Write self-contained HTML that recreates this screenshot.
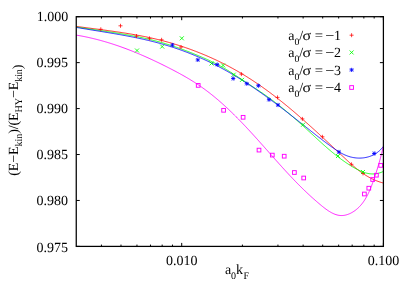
<!DOCTYPE html><html><head><meta charset="utf-8"><title>plot</title><style>html,body{margin:0;padding:0;background:#fff}svg{display:block}svg{will-change:transform}text{text-rendering:geometricPrecision;font-family:"Liberation Serif",serif;fill:#000}</style></head><body>
<svg width="415" height="291" viewBox="0 0 415 291">
<rect width="415" height="291" fill="#fff"/>
<defs><clipPath id="c"><rect x="76.25" y="16.70" width="307.15" height="229.70"/></clipPath></defs>
<g clip-path="url(#c)" fill="none" stroke-width="0.85" stroke-linejoin="round">
<path d="M76.10 26.37 L76.98 26.48 L77.86 26.60 L78.74 26.72 L79.61 26.83 L80.49 26.95 L81.37 27.07 L82.25 27.18 L83.13 27.30 L84.01 27.41 L84.89 27.53 L85.77 27.64 L86.65 27.76 L87.53 27.87 L88.40 27.99 L89.28 28.10 L90.16 28.21 L91.04 28.33 L91.92 28.44 L92.80 28.56 L93.68 28.67 L94.56 28.79 L95.44 28.90 L96.32 29.02 L97.20 29.13 L98.08 29.25 L98.96 29.36 L99.83 29.48 L100.71 29.60 L101.59 29.71 L102.47 29.83 L103.35 29.95 L104.23 30.07 L105.11 30.18 L105.99 30.30 L106.86 30.42 L107.74 30.54 L108.62 30.67 L109.50 30.79 L110.38 30.91 L111.25 31.03 L112.13 31.16 L113.01 31.28 L113.89 31.41 L114.76 31.53 L115.64 31.66 L116.52 31.79 L117.39 31.92 L118.27 32.05 L119.15 32.18 L120.02 32.31 L120.90 32.45 L121.77 32.58 L122.65 32.72 L123.52 32.85 L124.40 32.99 L125.27 33.13 L126.15 33.27 L127.02 33.41 L127.90 33.55 L128.77 33.70 L129.64 33.84 L130.52 33.99 L131.39 34.14 L132.26 34.29 L133.13 34.44 L134.00 34.59 L134.88 34.75 L135.75 34.91 L136.62 35.06 L137.49 35.22 L138.36 35.38 L139.23 35.55 L140.10 35.71 L140.97 35.88 L141.84 36.05 L142.70 36.22 L143.57 36.39 L144.44 36.56 L145.31 36.74 L146.17 36.92 L147.04 37.10 L147.91 37.28 L148.77 37.46 L149.64 37.65 L150.50 37.84 L151.36 38.03 L152.23 38.22 L153.09 38.41 L153.95 38.61 L154.82 38.81 L155.68 39.01 L156.54 39.22 L157.40 39.42 L158.26 39.63 L159.12 39.84 L159.98 40.06 L160.84 40.27 L161.70 40.49 L162.56 40.71 L163.41 40.94 L164.27 41.16 L165.13 41.39 L165.98 41.62 L166.84 41.85 L167.69 42.09 L168.55 42.33 L169.40 42.57 L170.25 42.81 L171.10 43.06 L171.96 43.31 L172.81 43.56 L173.66 43.81 L174.51 44.07 L175.35 44.33 L176.20 44.59 L177.05 44.85 L177.90 45.12 L178.74 45.38 L179.59 45.65 L180.43 45.93 L181.28 46.20 L182.12 46.48 L182.96 46.76 L183.80 47.04 L184.64 47.33 L185.48 47.62 L186.32 47.91 L187.16 48.20 L188.00 48.49 L188.83 48.79 L189.67 49.09 L190.50 49.39 L191.34 49.70 L192.17 50.00 L193.00 50.31 L193.84 50.63 L194.67 50.94 L195.50 51.26 L196.32 51.58 L197.15 51.90 L197.98 52.22 L198.81 52.55 L199.63 52.88 L200.45 53.21 L201.28 53.54 L202.10 53.88 L202.92 54.21 L203.74 54.55 L204.56 54.90 L205.38 55.24 L206.19 55.59 L207.01 55.94 L207.82 56.29 L208.64 56.65 L209.45 57.00 L210.26 57.36 L211.07 57.73 L211.88 58.09 L212.69 58.46 L213.50 58.83 L214.30 59.20 L215.11 59.57 L215.91 59.95 L216.72 60.33 L217.52 60.71 L218.32 61.09 L219.12 61.47 L219.91 61.86 L220.71 62.25 L221.51 62.64 L222.30 63.04 L223.09 63.44 L223.89 63.84 L224.68 64.24 L225.47 64.64 L226.25 65.05 L227.04 65.46 L227.83 65.87 L228.61 66.28 L229.39 66.70 L230.17 67.11 L230.95 67.53 L231.73 67.96 L232.51 68.38 L233.29 68.81 L234.06 69.24 L234.83 69.67 L235.61 70.10 L236.38 70.54 L237.15 70.98 L237.91 71.42 L238.68 71.86 L239.44 72.31 L240.21 72.75 L240.97 73.20 L241.73 73.66 L242.49 74.11 L243.25 74.57 L244.00 75.03 L244.76 75.49 L245.51 75.95 L246.26 76.42 L247.01 76.88 L247.76 77.35 L248.51 77.83 L249.26 78.30 L250.00 78.78 L250.74 79.25 L251.49 79.73 L252.23 80.22 L252.96 80.70 L253.70 81.19 L254.44 81.68 L255.17 82.17 L255.91 82.66 L256.64 83.15 L257.37 83.65 L258.10 84.15 L258.83 84.65 L259.56 85.15 L260.29 85.65 L261.01 86.16 L261.73 86.67 L262.46 87.18 L263.18 87.69 L263.90 88.20 L264.62 88.72 L265.34 89.23 L266.05 89.75 L266.77 90.27 L267.48 90.79 L268.19 91.32 L268.91 91.84 L269.62 92.37 L270.33 92.90 L271.04 93.43 L271.74 93.96 L272.45 94.49 L273.15 95.03 L273.86 95.56 L274.56 96.10 L275.26 96.64 L275.97 97.18 L276.67 97.72 L277.36 98.27 L278.06 98.81 L278.76 99.36 L279.46 99.91 L280.15 100.45 L280.84 101.01 L281.54 101.56 L282.23 102.11 L282.92 102.67 L283.61 103.22 L284.30 103.78 L284.99 104.34 L285.68 104.90 L286.36 105.46 L287.05 106.02 L287.73 106.59 L288.42 107.15 L289.10 107.72 L289.78 108.28 L290.46 108.85 L291.14 109.42 L291.82 109.99 L292.50 110.57 L293.18 111.14 L293.86 111.71 L294.53 112.29 L295.21 112.86 L295.88 113.44 L296.56 114.02 L297.23 114.60 L297.90 115.18 L298.58 115.76 L299.25 116.34 L299.92 116.92 L300.59 117.51 L301.26 118.09 L301.92 118.68 L302.59 119.26 L303.26 119.85 L303.93 120.44 L304.59 121.03 L305.26 121.62 L305.92 122.21 L306.58 122.80 L307.25 123.39 L307.91 123.98 L308.57 124.58 L309.23 125.17 L309.89 125.76 L310.55 126.36 L311.21 126.95 L311.87 127.55 L312.53 128.15 L313.19 128.75 L313.85 129.34 L314.50 129.94 L315.16 130.54 L315.82 131.14 L316.47 131.74 L317.13 132.34 L317.78 132.94 L318.44 133.54 L319.09 134.15 L319.74 134.75 L320.40 135.35 L321.05 135.96 L321.70 136.56 L322.35 137.16 L323.00 137.77 L323.65 138.37 L324.31 138.98 L324.96 139.58 L325.61 140.19 L326.25 140.79 L326.90 141.40 L327.55 142.01 L328.20 142.61 L328.85 143.22 L329.50 143.82 L330.14 144.43 L330.79 145.04 L331.44 145.65 L332.09 146.25 L332.73 146.86 L333.38 147.47 L334.03 148.07 L334.67 148.68 L335.32 149.29 L335.96 149.90 L336.61 150.50 L337.25 151.11 L337.90 151.72 L338.54 152.33 L339.19 152.93 L339.83 153.54 L340.48 154.15 L341.12 154.75 L341.76 155.36 L342.41 155.97 L343.05 156.57 L343.70 157.18 L344.34 157.78 L344.98 158.39 L345.63 158.99 L346.27 159.60 L346.92 160.20 L347.57 160.80 L348.22 161.39 L348.87 161.99 L349.52 162.58 L350.17 163.18 L350.82 163.76 L351.48 164.35 L352.14 164.93 L352.80 165.51 L353.47 166.08 L354.13 166.65 L354.80 167.22 L355.48 167.78 L356.15 168.34 L356.83 168.89 L357.52 169.44 L358.21 169.98 L358.90 170.52 L359.59 171.05 L360.30 171.57 L361.00 172.09 L361.71 172.60 L362.43 173.11 L363.15 173.60 L363.87 174.09 L364.60 174.58 L365.34 175.05 L366.09 175.52 L366.83 175.97 L367.59 176.42 L368.35 176.87 L369.12 177.30 L369.90 177.72 L370.68 178.13 L371.47 178.54 L372.27 178.93 L373.07 179.31 L373.89 179.69 L374.71 180.05 L375.54 180.40 L376.37 180.74 L377.22 181.07 L378.07 181.39 L378.94 181.69 L379.81 181.99 L380.69 182.27 L381.58 182.54 L382.48 182.79 L383.40 183.04" stroke="#ff0000"/>
<path d="M76.11 26.96 L76.97 27.09 L77.84 27.23 L78.70 27.36 L79.56 27.50 L80.43 27.63 L81.29 27.76 L82.16 27.89 L83.02 28.02 L83.89 28.15 L84.75 28.28 L85.62 28.41 L86.49 28.54 L87.35 28.67 L88.22 28.80 L89.09 28.93 L89.95 29.05 L90.82 29.18 L91.69 29.31 L92.55 29.44 L93.42 29.56 L94.29 29.69 L95.16 29.82 L96.03 29.94 L96.89 30.07 L97.76 30.20 L98.63 30.33 L99.50 30.45 L100.37 30.58 L101.23 30.71 L102.10 30.84 L102.97 30.96 L103.84 31.09 L104.71 31.22 L105.57 31.35 L106.44 31.48 L107.31 31.61 L108.18 31.74 L109.05 31.88 L109.91 32.01 L110.78 32.14 L111.65 32.27 L112.52 32.41 L113.38 32.54 L114.25 32.68 L115.12 32.82 L115.99 32.95 L116.85 33.09 L117.72 33.23 L118.59 33.37 L119.45 33.51 L120.32 33.66 L121.18 33.80 L122.05 33.95 L122.91 34.09 L123.78 34.24 L124.64 34.39 L125.51 34.54 L126.37 34.69 L127.24 34.84 L128.10 35.00 L128.96 35.15 L129.83 35.31 L130.69 35.47 L131.55 35.63 L132.41 35.79 L133.27 35.95 L134.13 36.12 L135.00 36.28 L135.86 36.45 L136.71 36.62 L137.57 36.79 L138.43 36.97 L139.29 37.14 L140.15 37.32 L141.01 37.50 L141.86 37.68 L142.72 37.87 L143.58 38.05 L144.43 38.24 L145.29 38.43 L146.14 38.62 L146.99 38.82 L147.85 39.01 L148.70 39.21 L149.55 39.42 L150.40 39.62 L151.25 39.83 L152.10 40.04 L152.95 40.25 L153.80 40.46 L154.65 40.68 L155.49 40.90 L156.34 41.12 L157.19 41.34 L158.03 41.57 L158.88 41.80 L159.72 42.03 L160.56 42.27 L161.40 42.51 L162.25 42.75 L163.09 42.99 L163.93 43.24 L164.77 43.49 L165.60 43.74 L166.44 44.00 L167.28 44.26 L168.11 44.52 L168.95 44.78 L169.78 45.05 L170.62 45.31 L171.45 45.58 L172.28 45.86 L173.12 46.13 L173.95 46.41 L174.78 46.69 L175.61 46.98 L176.44 47.26 L177.26 47.55 L178.09 47.84 L178.92 48.13 L179.74 48.43 L180.57 48.72 L181.39 49.02 L182.22 49.32 L183.04 49.63 L183.86 49.93 L184.68 50.24 L185.51 50.55 L186.33 50.86 L187.15 51.17 L187.96 51.49 L188.78 51.81 L189.60 52.13 L190.42 52.45 L191.23 52.77 L192.05 53.10 L192.86 53.42 L193.68 53.75 L194.49 54.08 L195.30 54.41 L196.12 54.75 L196.93 55.08 L197.74 55.42 L198.55 55.76 L199.36 56.10 L200.17 56.44 L200.97 56.79 L201.78 57.13 L202.59 57.48 L203.39 57.83 L204.20 58.18 L205.00 58.53 L205.80 58.89 L206.60 59.25 L207.40 59.61 L208.20 59.97 L209.00 60.34 L209.79 60.71 L210.59 61.08 L211.38 61.46 L212.17 61.83 L212.96 62.22 L213.75 62.60 L214.53 62.99 L215.31 63.39 L216.09 63.78 L216.87 64.18 L217.64 64.59 L218.42 65.00 L219.19 65.41 L219.96 65.83 L220.72 66.26 L221.48 66.68 L222.24 67.12 L223.00 67.55 L223.76 67.99 L224.51 68.44 L225.26 68.89 L226.01 69.34 L226.76 69.79 L227.50 70.25 L228.25 70.71 L228.99 71.17 L229.73 71.64 L230.47 72.11 L231.21 72.58 L231.95 73.05 L232.68 73.52 L233.42 74.00 L234.15 74.48 L234.89 74.95 L235.62 75.43 L236.36 75.91 L237.09 76.40 L237.82 76.88 L238.55 77.36 L239.29 77.84 L240.02 78.33 L240.75 78.81 L241.48 79.29 L242.22 79.77 L242.95 80.26 L243.68 80.74 L244.42 81.22 L245.15 81.70 L245.89 82.18 L246.62 82.66 L247.36 83.14 L248.09 83.62 L248.83 84.10 L249.56 84.58 L250.29 85.06 L251.03 85.54 L251.76 86.02 L252.50 86.50 L253.23 86.99 L253.96 87.47 L254.69 87.95 L255.43 88.44 L256.16 88.92 L256.89 89.41 L257.62 89.90 L258.35 90.38 L259.07 90.87 L259.80 91.37 L260.53 91.86 L261.25 92.35 L261.97 92.85 L262.70 93.34 L263.42 93.84 L264.14 94.34 L264.86 94.84 L265.57 95.35 L266.29 95.85 L267.00 96.36 L267.72 96.87 L268.43 97.38 L269.14 97.89 L269.84 98.41 L270.55 98.93 L271.26 99.45 L271.96 99.97 L272.66 100.49 L273.36 101.02 L274.06 101.55 L274.76 102.08 L275.45 102.61 L276.15 103.14 L276.84 103.68 L277.53 104.21 L278.22 104.75 L278.91 105.29 L279.60 105.83 L280.28 106.38 L280.97 106.92 L281.65 107.47 L282.33 108.02 L283.01 108.57 L283.69 109.12 L284.37 109.68 L285.05 110.23 L285.72 110.79 L286.40 111.35 L287.07 111.91 L287.74 112.47 L288.42 113.03 L289.09 113.60 L289.75 114.16 L290.42 114.73 L291.09 115.30 L291.75 115.87 L292.42 116.44 L293.08 117.01 L293.74 117.59 L294.40 118.16 L295.06 118.74 L295.72 119.32 L296.38 119.90 L297.03 120.48 L297.69 121.06 L298.34 121.64 L299.00 122.22 L299.65 122.81 L300.30 123.40 L300.95 123.98 L301.60 124.57 L302.25 125.16 L302.90 125.75 L303.55 126.34 L304.19 126.93 L304.84 127.53 L305.49 128.12 L306.13 128.71 L306.77 129.31 L307.42 129.90 L308.06 130.50 L308.70 131.10 L309.34 131.69 L309.99 132.29 L310.63 132.88 L311.27 133.48 L311.91 134.08 L312.55 134.68 L313.20 135.27 L313.84 135.87 L314.48 136.46 L315.12 137.06 L315.77 137.66 L316.41 138.25 L317.05 138.84 L317.70 139.44 L318.35 140.03 L318.99 140.62 L319.64 141.21 L320.29 141.80 L320.93 142.39 L321.58 142.98 L322.23 143.57 L322.89 144.15 L323.54 144.74 L324.19 145.32 L324.85 145.90 L325.51 146.48 L326.16 147.06 L326.82 147.63 L327.49 148.21 L328.15 148.78 L328.81 149.35 L329.48 149.92 L330.15 150.48 L330.82 151.05 L331.49 151.61 L332.17 152.17 L332.84 152.72 L333.52 153.28 L334.20 153.83 L334.88 154.38 L335.57 154.93 L336.26 155.47 L336.95 156.01 L337.64 156.55 L338.34 157.08 L339.04 157.61 L339.74 158.14 L340.44 158.67 L341.15 159.19 L341.86 159.71 L342.57 160.22 L343.29 160.73 L344.00 161.24 L344.73 161.75 L345.45 162.25 L346.18 162.74 L346.91 163.24 L347.65 163.72 L348.39 164.21 L349.13 164.69 L349.88 165.16 L350.63 165.64 L351.38 166.10 L352.14 166.57 L352.91 167.02 L353.67 167.48 L354.44 167.92 L355.22 168.36 L355.99 168.79 L356.77 169.21 L357.56 169.62 L358.35 170.01 L359.14 170.40 L359.94 170.77 L360.74 171.12 L361.54 171.46 L362.35 171.78 L363.16 172.09 L363.97 172.37 L364.79 172.64 L365.61 172.88 L366.43 173.10 L367.26 173.30 L368.09 173.48 L368.92 173.63 L369.76 173.75 L370.60 173.84 L371.44 173.91 L372.29 173.95 L373.13 173.96 L373.99 173.93 L374.84 173.88 L375.70 173.79 L376.56 173.66 L377.42 173.50 L378.29 173.31 L379.15 173.07 L380.03 172.80 L380.90 172.49 L381.78 172.14 L382.65 171.74 L383.54 171.31" stroke="#00ff00"/>
<path d="M76.11 27.36 L76.96 27.51 L77.81 27.66 L78.66 27.80 L79.52 27.95 L80.37 28.09 L81.22 28.24 L82.07 28.38 L82.92 28.52 L83.78 28.67 L84.63 28.81 L85.48 28.95 L86.34 29.09 L87.19 29.23 L88.05 29.37 L88.90 29.51 L89.75 29.65 L90.61 29.79 L91.46 29.93 L92.32 30.07 L93.17 30.21 L94.03 30.34 L94.88 30.48 L95.74 30.62 L96.59 30.76 L97.45 30.90 L98.30 31.04 L99.16 31.17 L100.01 31.31 L100.87 31.45 L101.72 31.59 L102.58 31.73 L103.43 31.87 L104.29 32.01 L105.14 32.15 L106.00 32.29 L106.85 32.43 L107.71 32.57 L108.56 32.71 L109.42 32.86 L110.27 33.00 L111.13 33.14 L111.98 33.29 L112.84 33.43 L113.69 33.58 L114.55 33.72 L115.40 33.87 L116.26 34.01 L117.11 34.16 L117.97 34.31 L118.82 34.46 L119.67 34.61 L120.53 34.76 L121.38 34.91 L122.23 35.07 L123.08 35.22 L123.94 35.38 L124.79 35.53 L125.64 35.69 L126.49 35.85 L127.35 36.01 L128.20 36.17 L129.05 36.33 L129.90 36.49 L130.75 36.66 L131.60 36.83 L132.45 36.99 L133.30 37.16 L134.15 37.33 L135.00 37.50 L135.84 37.68 L136.69 37.85 L137.54 38.03 L138.39 38.21 L139.23 38.38 L140.08 38.57 L140.93 38.75 L141.77 38.93 L142.62 39.12 L143.46 39.31 L144.31 39.50 L145.15 39.69 L146.00 39.88 L146.84 40.08 L147.68 40.28 L148.52 40.48 L149.36 40.68 L150.21 40.88 L151.05 41.09 L151.89 41.29 L152.72 41.50 L153.56 41.72 L154.40 41.93 L155.24 42.15 L156.08 42.37 L156.91 42.59 L157.75 42.81 L158.58 43.04 L159.42 43.26 L160.25 43.50 L161.09 43.73 L161.92 43.96 L162.75 44.20 L163.58 44.44 L164.41 44.69 L165.24 44.93 L166.07 45.18 L166.90 45.43 L167.73 45.68 L168.56 45.94 L169.38 46.20 L170.21 46.46 L171.04 46.72 L171.86 46.98 L172.68 47.25 L173.51 47.52 L174.33 47.79 L175.15 48.07 L175.97 48.34 L176.79 48.62 L177.61 48.91 L178.43 49.19 L179.25 49.48 L180.06 49.76 L180.88 50.06 L181.69 50.35 L182.51 50.65 L183.32 50.94 L184.13 51.25 L184.95 51.55 L185.76 51.85 L186.57 52.16 L187.37 52.47 L188.18 52.78 L188.99 53.10 L189.80 53.42 L190.60 53.74 L191.41 54.06 L192.21 54.38 L193.01 54.71 L193.81 55.04 L194.61 55.37 L195.41 55.70 L196.21 56.04 L197.01 56.38 L197.81 56.72 L198.60 57.06 L199.40 57.40 L200.19 57.75 L200.98 58.10 L201.78 58.45 L202.57 58.81 L203.36 59.16 L204.14 59.52 L204.93 59.88 L205.72 60.25 L206.50 60.61 L207.29 60.98 L208.07 61.35 L208.85 61.72 L209.63 62.10 L210.41 62.47 L211.19 62.85 L211.97 63.23 L212.75 63.62 L213.52 64.00 L214.30 64.39 L215.07 64.78 L215.84 65.17 L216.61 65.57 L217.38 65.96 L218.15 66.36 L218.92 66.76 L219.68 67.17 L220.45 67.57 L221.21 67.98 L221.97 68.39 L222.73 68.80 L223.49 69.22 L224.25 69.63 L225.01 70.05 L225.76 70.47 L226.52 70.89 L227.27 71.32 L228.03 71.74 L228.78 72.17 L229.53 72.60 L230.28 73.04 L231.03 73.47 L231.77 73.91 L232.52 74.35 L233.27 74.79 L234.01 75.23 L234.75 75.67 L235.49 76.12 L236.23 76.56 L236.97 77.01 L237.71 77.46 L238.45 77.92 L239.19 78.37 L239.92 78.83 L240.66 79.29 L241.39 79.75 L242.12 80.21 L242.86 80.67 L243.59 81.13 L244.32 81.60 L245.04 82.07 L245.77 82.54 L246.50 83.01 L247.22 83.48 L247.95 83.96 L248.67 84.43 L249.40 84.91 L250.12 85.39 L250.84 85.87 L251.56 86.35 L252.28 86.83 L253.00 87.31 L253.72 87.80 L254.43 88.29 L255.15 88.78 L255.86 89.26 L256.58 89.76 L257.29 90.25 L258.00 90.74 L258.72 91.24 L259.43 91.73 L260.14 92.23 L260.85 92.73 L261.56 93.23 L262.26 93.73 L262.97 94.23 L263.68 94.73 L264.38 95.24 L265.09 95.74 L265.79 96.25 L266.49 96.75 L267.20 97.26 L267.90 97.77 L268.60 98.28 L269.30 98.79 L270.00 99.31 L270.70 99.82 L271.40 100.33 L272.09 100.85 L272.79 101.36 L273.49 101.88 L274.18 102.40 L274.88 102.92 L275.57 103.43 L276.27 103.95 L276.96 104.48 L277.65 105.00 L278.35 105.52 L279.04 106.04 L279.73 106.57 L280.42 107.09 L281.11 107.61 L281.80 108.14 L282.49 108.67 L283.17 109.19 L283.86 109.72 L284.55 110.25 L285.23 110.78 L285.92 111.31 L286.61 111.84 L287.29 112.37 L287.97 112.90 L288.66 113.43 L289.34 113.96 L290.02 114.49 L290.71 115.02 L291.39 115.56 L292.07 116.09 L292.75 116.62 L293.43 117.16 L294.11 117.69 L294.79 118.22 L295.47 118.76 L296.15 119.29 L296.83 119.83 L297.51 120.36 L298.19 120.90 L298.86 121.44 L299.54 121.97 L300.22 122.51 L300.89 123.04 L301.57 123.58 L302.25 124.12 L302.92 124.65 L303.60 125.19 L304.27 125.73 L304.95 126.26 L305.62 126.80 L306.29 127.34 L306.97 127.87 L307.64 128.41 L308.32 128.95 L308.99 129.48 L309.66 130.02 L310.34 130.56 L311.01 131.09 L311.69 131.63 L312.36 132.16 L313.04 132.70 L313.71 133.23 L314.39 133.76 L315.07 134.30 L315.74 134.83 L316.42 135.36 L317.10 135.90 L317.78 136.43 L318.46 136.96 L319.14 137.49 L319.83 138.02 L320.51 138.55 L321.20 139.08 L321.88 139.61 L322.57 140.13 L323.26 140.66 L323.95 141.18 L324.64 141.71 L325.34 142.23 L326.03 142.76 L326.73 143.28 L327.43 143.80 L328.13 144.32 L328.83 144.84 L329.54 145.36 L330.24 145.87 L330.95 146.39 L331.66 146.90 L332.38 147.41 L333.09 147.92 L333.81 148.43 L334.53 148.93 L335.26 149.42 L335.99 149.91 L336.72 150.40 L337.46 150.87 L338.20 151.34 L338.94 151.79 L339.69 152.24 L340.44 152.67 L341.20 153.10 L341.96 153.51 L342.73 153.91 L343.50 154.29 L344.28 154.66 L345.07 155.02 L345.86 155.35 L346.66 155.67 L347.46 155.98 L348.27 156.26 L349.08 156.53 L349.91 156.77 L350.74 157.00 L351.57 157.20 L352.41 157.39 L353.26 157.55 L354.10 157.69 L354.96 157.81 L355.81 157.91 L356.67 157.99 L357.52 158.05 L358.38 158.09 L359.24 158.10 L360.10 158.09 L360.96 158.07 L361.82 158.01 L362.67 157.94 L363.52 157.85 L364.37 157.73 L365.22 157.59 L366.06 157.42 L366.90 157.24 L367.73 157.03 L368.55 156.79 L369.37 156.54 L370.18 156.26 L370.98 155.96 L371.78 155.63 L372.56 155.28 L373.34 154.90 L374.10 154.50 L374.86 154.08 L375.60 153.63 L376.33 153.16 L377.05 152.66 L377.76 152.14 L378.45 151.59 L379.13 151.02 L379.79 150.43 L380.44 149.80 L381.07 149.15 L381.68 148.48 L382.28 147.78 L382.86 147.05 L383.42 146.30" stroke="#0000ff"/>
<path d="M76.11 35.09 L77.13 35.26 L78.15 35.43 L79.18 35.61 L80.20 35.79 L81.22 35.98 L82.23 36.17 L83.25 36.37 L84.27 36.57 L85.28 36.78 L86.30 36.99 L87.31 37.20 L88.32 37.42 L89.33 37.65 L90.34 37.88 L91.35 38.11 L92.36 38.35 L93.37 38.59 L94.37 38.83 L95.38 39.08 L96.38 39.33 L97.38 39.59 L98.38 39.85 L99.38 40.12 L100.38 40.39 L101.38 40.66 L102.37 40.94 L103.37 41.22 L104.36 41.51 L105.36 41.80 L106.35 42.09 L107.34 42.39 L108.33 42.69 L109.32 42.99 L110.31 43.30 L111.29 43.61 L112.28 43.93 L113.27 44.25 L114.25 44.57 L115.23 44.90 L116.21 45.23 L117.19 45.56 L118.17 45.89 L119.15 46.23 L120.13 46.58 L121.10 46.92 L122.08 47.27 L123.05 47.63 L124.02 47.98 L125.00 48.34 L125.97 48.70 L126.94 49.07 L127.90 49.44 L128.87 49.81 L129.84 50.19 L130.80 50.56 L131.77 50.94 L132.73 51.33 L133.69 51.71 L134.65 52.10 L135.61 52.50 L136.57 52.89 L137.53 53.29 L138.49 53.69 L139.44 54.09 L140.40 54.50 L141.35 54.91 L142.30 55.32 L143.25 55.73 L144.20 56.15 L145.15 56.57 L146.10 56.99 L147.05 57.41 L147.99 57.84 L148.94 58.26 L149.88 58.69 L150.83 59.13 L151.77 59.56 L152.71 60.00 L153.65 60.44 L154.59 60.88 L155.52 61.32 L156.46 61.77 L157.40 62.22 L158.33 62.67 L159.26 63.12 L160.20 63.57 L161.13 64.03 L162.06 64.49 L162.99 64.95 L163.91 65.41 L164.84 65.87 L165.77 66.34 L166.69 66.80 L167.62 67.27 L168.54 67.74 L169.46 68.21 L170.38 68.68 L171.30 69.16 L172.22 69.64 L173.14 70.11 L174.05 70.59 L174.97 71.08 L175.88 71.56 L176.79 72.05 L177.70 72.54 L178.61 73.03 L179.52 73.52 L180.42 74.02 L181.33 74.52 L182.23 75.02 L183.13 75.52 L184.02 76.03 L184.92 76.54 L185.81 77.06 L186.70 77.57 L187.59 78.10 L188.48 78.62 L189.36 79.15 L190.24 79.68 L191.12 80.22 L192.00 80.76 L192.87 81.30 L193.74 81.85 L194.61 82.40 L195.48 82.96 L196.34 83.52 L197.20 84.09 L198.05 84.66 L198.91 85.23 L199.76 85.81 L200.60 86.40 L201.45 86.99 L202.29 87.58 L203.12 88.18 L203.96 88.78 L204.79 89.39 L205.62 90.00 L206.45 90.62 L207.27 91.24 L208.09 91.86 L208.91 92.49 L209.72 93.12 L210.53 93.76 L211.34 94.40 L212.15 95.04 L212.95 95.69 L213.75 96.34 L214.55 96.99 L215.35 97.65 L216.14 98.32 L216.93 98.98 L217.72 99.65 L218.51 100.32 L219.29 101.00 L220.07 101.68 L220.85 102.36 L221.63 103.05 L222.40 103.74 L223.17 104.43 L223.94 105.13 L224.71 105.83 L225.48 106.53 L226.24 107.23 L227.00 107.94 L227.76 108.65 L228.52 109.36 L229.27 110.08 L230.03 110.80 L230.78 111.52 L231.53 112.24 L232.27 112.96 L233.02 113.69 L233.76 114.42 L234.50 115.16 L235.24 115.89 L235.98 116.63 L236.72 117.37 L237.45 118.11 L238.19 118.85 L238.92 119.60 L239.65 120.34 L240.38 121.09 L241.10 121.84 L241.83 122.60 L242.55 123.35 L243.28 124.11 L244.00 124.86 L244.72 125.62 L245.44 126.38 L246.15 127.14 L246.87 127.91 L247.58 128.67 L248.30 129.44 L249.01 130.20 L249.72 130.97 L250.43 131.74 L251.14 132.51 L251.84 133.28 L252.55 134.06 L253.25 134.83 L253.96 135.60 L254.66 136.38 L255.36 137.15 L256.07 137.93 L256.77 138.71 L257.47 139.48 L258.17 140.26 L258.86 141.04 L259.56 141.82 L260.26 142.60 L260.95 143.38 L261.65 144.15 L262.34 144.93 L263.04 145.71 L263.73 146.49 L264.42 147.27 L265.11 148.05 L265.81 148.83 L266.50 149.61 L267.19 150.39 L267.88 151.17 L268.57 151.95 L269.26 152.73 L269.95 153.50 L270.64 154.28 L271.33 155.06 L272.01 155.83 L272.70 156.61 L273.39 157.38 L274.08 158.16 L274.77 158.93 L275.45 159.70 L276.14 160.47 L276.83 161.24 L277.52 162.01 L278.21 162.78 L278.89 163.55 L279.58 164.32 L280.27 165.08 L280.96 165.84 L281.65 166.61 L282.33 167.37 L283.02 168.12 L283.71 168.88 L284.40 169.64 L285.09 170.39 L285.78 171.15 L286.47 171.90 L287.16 172.65 L287.86 173.39 L288.55 174.14 L289.24 174.88 L289.93 175.62 L290.63 176.36 L291.32 177.10 L292.02 177.84 L292.72 178.57 L293.42 179.31 L294.12 180.04 L294.82 180.77 L295.52 181.50 L296.23 182.22 L296.94 182.95 L297.65 183.67 L298.36 184.40 L299.08 185.12 L299.80 185.84 L300.52 186.56 L301.25 187.28 L301.97 188.00 L302.70 188.71 L303.44 189.43 L304.18 190.14 L304.92 190.86 L305.66 191.57 L306.41 192.28 L307.17 192.99 L307.92 193.70 L308.69 194.41 L309.45 195.12 L310.22 195.83 L311.00 196.54 L311.78 197.25 L312.57 197.95 L313.36 198.66 L314.16 199.37 L314.96 200.07 L315.77 200.78 L316.58 201.48 L317.40 202.19 L318.22 202.89 L319.06 203.60 L319.89 204.30 L320.74 205.01 L321.59 205.71 L322.45 206.41 L323.31 207.10 L324.18 207.79 L325.06 208.46 L325.94 209.11 L326.83 209.75 L327.72 210.37 L328.62 210.97 L329.53 211.54 L330.44 212.09 L331.35 212.60 L332.28 213.08 L333.20 213.53 L334.14 213.94 L335.08 214.31 L336.02 214.64 L336.97 214.92 L337.92 215.15 L338.88 215.33 L339.84 215.46 L340.81 215.54 L341.78 215.55 L342.76 215.51 L343.74 215.41 L344.72 215.25 L345.69 215.04 L346.67 214.78 L347.64 214.47 L348.60 214.12 L349.55 213.73 L350.50 213.29 L351.43 212.81 L352.34 212.30 L353.24 211.76 L354.12 211.18 L354.98 210.58 L355.82 209.95 L356.63 209.29 L357.43 208.62 L358.19 207.92 L358.94 207.19 L359.67 206.45 L360.37 205.69 L361.05 204.91 L361.72 204.11 L362.36 203.29 L362.99 202.46 L363.59 201.61 L364.18 200.74 L364.75 199.87 L365.31 198.97 L365.85 198.07 L366.37 197.15 L366.88 196.23 L367.38 195.29 L367.86 194.34 L368.33 193.39 L368.78 192.43 L369.23 191.46 L369.66 190.48 L370.08 189.50 L370.49 188.52 L370.89 187.53 L371.29 186.54 L371.67 185.55 L372.04 184.55 L372.41 183.56 L372.77 182.57 L373.13 181.57 L373.47 180.59 L373.82 179.60 L374.15 178.62 L374.49 177.64 L374.82 176.66 L375.14 175.69 L375.46 174.72 L375.78 173.75 L376.09 172.79 L376.40 171.83 L376.70 170.86 L377.01 169.90 L377.30 168.94 L377.60 167.98 L377.89 167.01 L378.18 166.05 L378.46 165.09 L378.74 164.12 L379.02 163.15 L379.30 162.18 L379.57 161.20 L379.85 160.22 L380.12 159.24 L380.38 158.25 L380.65 157.26 L380.91 156.27 L381.17 155.26 L381.43 154.26 L381.69 153.24 L381.94 152.22 L382.20 151.19 L382.45 150.16 L382.70 149.11 L382.96 148.06 L383.21 147.00" stroke="#ff00ff"/>
</g>
<path d="M98.80 29.30H102.80M100.80 27.30V31.30" stroke="#ff0000" stroke-width="0.75" fill="none"/>
<path d="M118.50 25.80H122.50M120.50 23.80V27.80" stroke="#ff0000" stroke-width="0.75" fill="none"/>
<path d="M134.50 36.00H138.50M136.50 34.00V38.00" stroke="#ff0000" stroke-width="0.75" fill="none"/>
<path d="M147.50 38.40H151.50M149.50 36.40V40.40" stroke="#ff0000" stroke-width="0.75" fill="none"/>
<path d="M159.60 39.80H163.60M161.60 37.80V41.80" stroke="#ff0000" stroke-width="0.75" fill="none"/>
<path d="M179.00 47.00H183.00M181.00 45.00V49.00" stroke="#ff0000" stroke-width="0.75" fill="none"/>
<path d="M239.40 74.10H243.40M241.40 72.10V76.10" stroke="#ff0000" stroke-width="0.75" fill="none"/>
<path d="M275.50 97.40H279.50M277.50 95.40V99.40" stroke="#ff0000" stroke-width="0.75" fill="none"/>
<path d="M300.40 118.90H304.40M302.40 116.90V120.90" stroke="#ff0000" stroke-width="0.75" fill="none"/>
<path d="M320.40 136.80H324.40M322.40 134.80V138.80" stroke="#ff0000" stroke-width="0.75" fill="none"/>
<path d="M349.40 164.30H353.40M351.40 162.30V166.30" stroke="#ff0000" stroke-width="0.75" fill="none"/>
<path d="M361.00 173.40H365.00M363.00 171.40V175.40" stroke="#ff0000" stroke-width="0.75" fill="none"/>
<path d="M135.00 48.50L139.00 52.50M135.00 52.50L139.00 48.50" stroke="#00ff00" stroke-width="0.85" fill="none"/>
<path d="M160.20 44.60L164.20 48.60M160.20 48.60L164.20 44.60" stroke="#00ff00" stroke-width="0.85" fill="none"/>
<path d="M179.80 36.30L183.80 40.30M179.80 40.30L183.80 36.30" stroke="#00ff00" stroke-width="0.85" fill="none"/>
<path d="M209.50 61.50L213.50 65.50M209.50 65.50L213.50 61.50" stroke="#00ff00" stroke-width="0.85" fill="none"/>
<path d="M221.10 63.40L225.10 67.40M221.10 67.40L225.10 63.40" stroke="#00ff00" stroke-width="0.85" fill="none"/>
<path d="M231.70 72.70L235.70 76.70M231.70 76.70L235.70 72.70" stroke="#00ff00" stroke-width="0.85" fill="none"/>
<path d="M240.00 77.90L244.00 81.90M240.00 81.90L244.00 77.90" stroke="#00ff00" stroke-width="0.85" fill="none"/>
<path d="M301.10 122.70L305.10 126.70M301.10 126.70L305.10 122.70" stroke="#00ff00" stroke-width="0.85" fill="none"/>
<path d="M336.00 154.00L340.00 158.00M336.00 158.00L340.00 154.00" stroke="#00ff00" stroke-width="0.85" fill="none"/>
<path d="M361.00 170.00L365.00 174.00M361.00 174.00L365.00 170.00" stroke="#00ff00" stroke-width="0.85" fill="none"/>
<path d="M170.30 45.00H174.50M172.40 42.90V47.10M170.76 43.36L174.04 46.64M170.76 46.64L174.04 43.36" stroke="#0000ff" stroke-width="0.85" fill="none"/>
<path d="M195.70 59.90H199.90M197.80 57.80V62.00M196.16 58.26L199.44 61.54M196.16 61.54L199.44 58.26" stroke="#0000ff" stroke-width="0.85" fill="none"/>
<path d="M215.10 64.60H219.30M217.20 62.50V66.70M215.56 62.96L218.84 66.24M215.56 66.24L218.84 62.96" stroke="#0000ff" stroke-width="0.85" fill="none"/>
<path d="M231.10 78.50H235.30M233.20 76.40V80.60M231.56 76.86L234.84 80.14M231.56 80.14L234.84 76.86" stroke="#0000ff" stroke-width="0.85" fill="none"/>
<path d="M244.70 83.70H248.90M246.80 81.60V85.80M245.16 82.06L248.44 85.34M245.16 85.34L248.44 82.06" stroke="#0000ff" stroke-width="0.85" fill="none"/>
<path d="M256.30 85.70H260.50M258.40 83.60V87.80M256.76 84.06L260.04 87.34M256.76 87.34L260.04 84.06" stroke="#0000ff" stroke-width="0.85" fill="none"/>
<path d="M266.90 99.70H271.10M269.00 97.60V101.80M267.36 98.06L270.64 101.34M267.36 101.34L270.64 98.06" stroke="#0000ff" stroke-width="0.85" fill="none"/>
<path d="M275.90 105.00H280.10M278.00 102.90V107.10M276.36 103.36L279.64 106.64M276.36 106.64L279.64 103.36" stroke="#0000ff" stroke-width="0.85" fill="none"/>
<path d="M336.80 152.00H341.00M338.90 149.90V154.10M337.26 150.36L340.54 153.64M337.26 153.64L340.54 150.36" stroke="#0000ff" stroke-width="0.85" fill="none"/>
<path d="M372.10 153.50H376.30M374.20 151.40V155.60M372.56 151.86L375.84 155.14M372.56 155.14L375.84 151.86" stroke="#0000ff" stroke-width="0.85" fill="none"/>
<rect x="196.35" y="83.55" width="3.70" height="3.70" stroke="#ff00ff" stroke-width="0.95" fill="none"/>
<rect x="221.75" y="108.45" width="3.70" height="3.70" stroke="#ff00ff" stroke-width="0.95" fill="none"/>
<rect x="241.25" y="115.45" width="3.70" height="3.70" stroke="#ff00ff" stroke-width="0.95" fill="none"/>
<rect x="257.15" y="148.25" width="3.70" height="3.70" stroke="#ff00ff" stroke-width="0.95" fill="none"/>
<rect x="270.45" y="153.25" width="3.70" height="3.70" stroke="#ff00ff" stroke-width="0.95" fill="none"/>
<rect x="282.35" y="154.35" width="3.70" height="3.70" stroke="#ff00ff" stroke-width="0.95" fill="none"/>
<rect x="292.55" y="170.65" width="3.70" height="3.70" stroke="#ff00ff" stroke-width="0.95" fill="none"/>
<rect x="301.85" y="176.15" width="3.70" height="3.70" stroke="#ff00ff" stroke-width="0.95" fill="none"/>
<rect x="362.55" y="192.15" width="3.70" height="3.70" stroke="#ff00ff" stroke-width="0.95" fill="none"/>
<rect x="366.95" y="186.35" width="3.70" height="3.70" stroke="#ff00ff" stroke-width="0.95" fill="none"/>
<rect x="370.85" y="177.65" width="3.70" height="3.70" stroke="#ff00ff" stroke-width="0.95" fill="none"/>
<rect x="374.55" y="173.35" width="3.70" height="3.70" stroke="#ff00ff" stroke-width="0.95" fill="none"/>
<rect x="378.85" y="163.55" width="3.70" height="3.70" stroke="#ff00ff" stroke-width="0.95" fill="none"/>
<path d="M349.60 35.20H353.60M351.60 33.20V37.20" stroke="#ff0000" stroke-width="0.75" fill="none"/>
<text x="288.3" y="40.40" font-size="14.0">a<tspan font-size="9.8" dy="4.7">0</tspan><tspan dx="-0.3" dy="-4.7">/</tspan></text>
<text transform="translate(302.6,40.40) scale(1.14,1)" font-size="14.0">σ</text>
<text transform="translate(314.7,40.40) scale(1.05,1)" font-size="14.0">=</text>
<text transform="translate(325.3,40.40) scale(1.15,1)" font-size="14.0">−</text>
<text x="340.9" y="40.40" font-size="14.0" text-anchor="end">1</text>
<path d="M349.60 50.45L353.60 54.45M349.60 54.45L353.60 50.45" stroke="#00ff00" stroke-width="0.85" fill="none"/>
<text x="288.3" y="57.00" font-size="14.0">a<tspan font-size="9.8" dy="4.7">0</tspan><tspan dx="-0.3" dy="-4.7">/</tspan></text>
<text transform="translate(302.6,57.00) scale(1.14,1)" font-size="14.0">σ</text>
<text transform="translate(314.7,57.00) scale(1.05,1)" font-size="14.0">=</text>
<text transform="translate(325.3,57.00) scale(1.15,1)" font-size="14.0">−</text>
<text x="340.9" y="57.00" font-size="14.0" text-anchor="end">2</text>
<path d="M349.50 69.90H353.70M351.60 67.80V72.00M349.96 68.26L353.24 71.54M349.96 71.54L353.24 68.26" stroke="#0000ff" stroke-width="0.85" fill="none"/>
<text x="288.3" y="75.20" font-size="14.0">a<tspan font-size="9.8" dy="4.7">0</tspan><tspan dx="-0.3" dy="-4.7">/</tspan></text>
<text transform="translate(302.6,75.20) scale(1.14,1)" font-size="14.0">σ</text>
<text transform="translate(314.7,75.20) scale(1.05,1)" font-size="14.0">=</text>
<text transform="translate(325.3,75.20) scale(1.15,1)" font-size="14.0">−</text>
<text x="340.9" y="75.20" font-size="14.0" text-anchor="end">3</text>
<rect x="349.75" y="85.65" width="3.70" height="3.70" stroke="#ff00ff" stroke-width="0.95" fill="none"/>
<text x="288.3" y="92.00" font-size="14.0">a<tspan font-size="9.8" dy="4.7">0</tspan><tspan dx="-0.3" dy="-4.7">/</tspan></text>
<text transform="translate(302.6,92.00) scale(1.14,1)" font-size="14.0">σ</text>
<text transform="translate(314.7,92.00) scale(1.05,1)" font-size="14.0">=</text>
<text transform="translate(325.3,92.00) scale(1.15,1)" font-size="14.0">−</text>
<text x="340.9" y="92.00" font-size="14.0" text-anchor="end">4</text>
<text x="68.00" y="251.95" font-size="14.0" text-anchor="end">0.975</text>
<text x="68.00" y="205.31" font-size="14.0" text-anchor="end">0.980</text>
<text x="68.00" y="158.87" font-size="14.0" text-anchor="end">0.985</text>
<text x="68.00" y="112.93" font-size="14.0" text-anchor="end">0.990</text>
<text x="68.00" y="66.99" font-size="14.0" text-anchor="end">0.995</text>
<text x="68.30" y="21.40" font-size="14.0" text-anchor="end">1.000</text>
<text x="181.71" y="264.8" font-size="14.0" text-anchor="middle">0.010</text>
<text x="383.40" y="264.8" font-size="14.0" text-anchor="middle">0.100</text>
<path d="M76.25 246.40h3.50M383.40 246.40h-3.50M76.25 200.46h3.50M383.40 200.46h-3.50M76.25 154.52h3.50M383.40 154.52h-3.50M76.25 108.58h3.50M383.40 108.58h-3.50M76.25 62.64h3.50M383.40 62.64h-3.50M76.25 16.70h3.50M383.40 16.70h-3.50M101.45 246.40v-1.80M101.45 16.70v1.80M120.99 246.40v-1.80M120.99 16.70v1.80M136.96 246.40v-1.80M136.96 16.70v1.80M150.47 246.40v-1.80M150.47 16.70v1.80M162.16 246.40v-1.80M162.16 16.70v1.80M172.48 246.40v-1.80M172.48 16.70v1.80M242.42 246.40v-1.80M242.42 16.70v1.80M277.94 246.40v-1.80M277.94 16.70v1.80M303.14 246.40v-1.80M303.14 16.70v1.80M322.69 246.40v-1.80M322.69 16.70v1.80M338.66 246.40v-1.80M338.66 16.70v1.80M352.16 246.40v-1.80M352.16 16.70v1.80M363.85 246.40v-1.80M363.85 16.70v1.80M374.17 246.40v-1.80M374.17 16.70v1.80M181.71 246.40v-3.50M181.71 16.70v3.50M383.40 246.40v-3.50M383.40 16.70v3.50" stroke="#000" stroke-width="1.0" fill="none"/>
<rect x="76.25" y="16.70" width="307.15" height="229.70" fill="none" stroke="#000" stroke-width="1.25"/>
<text x="224.9" y="274.35" font-size="14.0">a<tspan font-size="10.0" dy="5.1">0</tspan><tspan dy="-5.1">k</tspan><tspan font-size="10.0" dx="0.4" dy="5.1">F</tspan></text>
<text transform="translate(17.8,175.7) rotate(-90)" letter-spacing="-0.12" font-size="14.0">(E−E<tspan font-size="10.2" dy="4.3">kin</tspan><tspan dy="-4.3">)/(E</tspan><tspan font-size="10.2" dy="4.3">HY</tspan><tspan dy="-4.3">−E</tspan><tspan font-size="10.2" dy="4.3">kin</tspan><tspan dy="0.2">)</tspan></text>
</svg></body></html>
